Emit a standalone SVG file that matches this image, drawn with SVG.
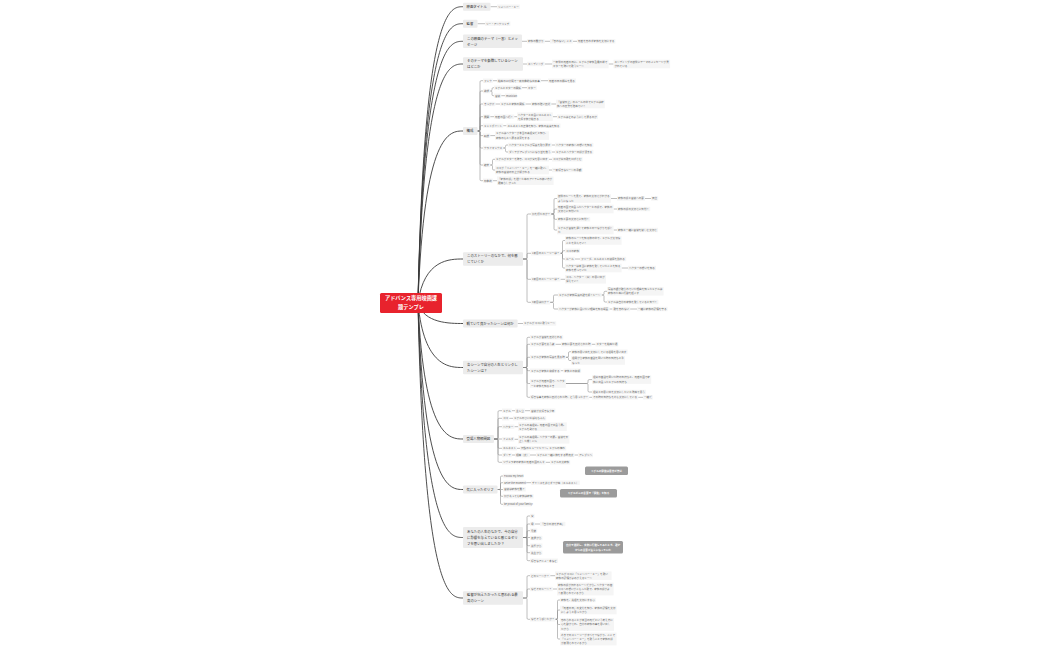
<svg xmlns="http://www.w3.org/2000/svg" width="1050" height="650" viewBox="0 0 1050 650">
<style>
text{font-family:"Noto Sans CJK JP","Noto Sans",sans-serif}
.l1 rect{fill:#ececec}
.l1 text{font-size:3.4px;fill:#333}
.l2 rect{fill:#f5f5f5}
.l2 text{font-size:2.6px;fill:#666}
.ctr rect{fill:#e8232d}
.ctr text{fill:#fff;font-size:5.2px;font-weight:bold;text-anchor:middle}
.note rect{fill:#9b9b9b}
.note text{fill:#fff;font-size:2.6px;font-weight:bold;text-anchor:middle}
.c0{fill:none;stroke:#3a3a3a;stroke-width:0.9}
.c1{fill:none;stroke:#888;stroke-width:0.55}
</style>
<rect width="1050" height="650" fill="#fff"/>
<g id="connectors">
<g class="c0">
<path d="M418 303C424 6.7 450 6.7 463 6.7"/>
<path d="M418 303C424 23.7 450 23.7 463 23.7"/>
<path d="M418 303C424 41.3 450 41.3 463 41.3"/>
<path d="M418 303C424 64 450 64 463 64"/>
<path d="M418 303C424 131 450 131 463 131"/>
<path d="M418 303C424 259 450 259 463 259"/>
<path d="M418 303C424 323.5 450 323.5 463 323.5"/>
<path d="M418 303C424 367.5 450 367.5 463 367.5"/>
<path d="M418 303C424 439 450 439 463 439"/>
<path d="M418 303C424 489.5 450 489.5 463 489.5"/>
<path d="M418 303C424 537.5 450 537.5 463 537.5"/>
<path d="M418 303C424 598 450 598 463 598"/>
</g>
<g class="c1">
<path d="M490.5 6.7H497"/>
<path d="M477.5 23.7H485"/>
<path d="M522 41.3H527M544.6 41.3H550M572.8 41.3H577"/>
<path d="M523 64H527M544.6 64H552M608.6 64H613.5"/>
<path d="M477.5 131H478.8Q480 131 480 129.8V81.9Q480 80.7 481.2 80.7H483"/>
<path d="M477.5 131H478.8Q480 131 480 129.8V92.2Q480 91 481.2 91H483"/>
<path d="M477.5 131H478.8Q480 131 480 129.8V105.2Q480 104 481.2 104H483"/>
<path d="M477.5 131H478.8Q480 131 480 129.8V117.9Q480 116.7 481.2 116.7H483"/>
<path d="M477.5 131H478.8Q480 131 480 129.8V126.9Q480 125.7 481.2 125.7H483"/>
<path d="M477.5 131H478.8Q480 131 480 132.2V134.4Q480 135.6 481.2 135.6H483"/>
<path d="M477.5 131H478.8Q480 131 480 132.2V146.8Q480 148 481.2 148H483"/>
<path d="M477.5 131H478.8Q480 131 480 132.2V163.8Q480 165 481.2 165H483"/>
<path d="M477.5 131H478.8Q480 131 480 132.2V179.5Q480 180.7 481.2 180.7H483"/>
<path d="M492.8 80.7H497M540.9 80.7H548"/>
<path d="M490.2 91H490.8Q492 91 492 89.8V88.9Q492 87.7 493.2 87.7H494M490.2 91H490.8Q492 91 492 92.2V94.5Q492 95.7 493.2 95.7H494"/>
<path d="M522 87.7H527M501.2 95.7H505"/>
<path d="M495.4 104H500M525.4 104H531M551.2 104H556"/>
<path d="M490.2 116.7H494M514.2 116.7H517M552.8 116.7H557"/>
<path d="M503.2 125.7H506.5"/>
<path d="M490.2 135.6H495"/>
<path d="M503.2 148H504.3Q505.5 148 505.5 146.8V146.2Q505.5 145 506.7 145H508M503.2 148H504.3Q505.5 148 505.5 149.2V150.8Q505.5 152 506.7 152H508"/>
<path d="M551.6 145H555M551.6 152H555"/>
<path d="M490.2 165H491.3Q492.5 165 492.5 163.8V160.5Q492.5 159.3 493.7 159.3H495M490.2 165H491.3Q492.5 165 492.5 166.2V168.8Q492.5 170 493.7 170H495"/>
<path d="M549 159.3H552M549 170H552"/>
<path d="M492.8 180.7H497"/>
<path d="M523 259H525.8Q527 259 527 257.8V215.2Q527 214 528.2 214H531"/>
<path d="M523 259H525.8Q527 259 527 257.8V254.5Q527 253.3 528.2 253.3H531"/>
<path d="M523 259H525.8Q527 259 527 260.2V278.1Q527 279.3 528.2 279.3H531"/>
<path d="M523 259H525.8Q527 259 527 260.2V301.1Q527 302.3 528.2 302.3H531"/>
<path d="M551.2 214H552.8Q554 214 554 212.8V199.7Q554 198.5 555.2 198.5H557"/>
<path d="M551.2 214H552.8Q554 214 554 212.8V210.2Q554 209 555.2 209H557"/>
<path d="M551.2 214H552.8Q554 214 554 215.2V218.1Q554 219.3 555.2 219.3H557"/>
<path d="M551.2 214H552.8Q554 214 554 215.2V228.8Q554 230 555.2 230H557"/>
<path d="M611 198.5H617M645 198.5H651M613.6 209H617M613.6 230H617"/>
<path d="M560.4 253.3H561.3Q562.5 253.3 562.5 252.1V241.7Q562.5 240.5 563.7 240.5H565"/>
<path d="M560.4 253.3H561.3Q562.5 253.3 562.5 252.1V251.9Q562.5 250.7 563.7 250.7H565"/>
<path d="M560.4 253.3H561.3Q562.5 253.3 562.5 254.5V257.8Q562.5 259 563.7 259H565"/>
<path d="M560.4 253.3H561.3Q562.5 253.3 562.5 254.5V266.8Q562.5 268 563.7 268H565"/>
<path d="M574.8 259H580M621.6 268H628"/>
<path d="M560.4 279.3H565"/>
<path d="M550.1 302.3H552.3Q553.5 302.3 553.5 301.1V296.2Q553.5 295 554.7 295H558M550.1 302.3H552.3Q553.5 302.3 553.5 303.5V307.8Q553.5 309 554.7 309H558"/>
<path d="M601.6 295H602.8Q604 295 604 293.8V292.5Q604 291.3 605.2 291.3H607M601.6 295H602.8Q604 295 604 296.2V300.8Q604 302 605.2 302H607"/>
<path d="M609.4 309H612.5M630.1 309H637"/>
<path d="M517.6 323.5H523"/>
<path d="M523 367.5H525.8Q527 367.5 527 366.3V338.5Q527 337.3 528.2 337.3H530"/>
<path d="M523 367.5H525.8Q527 367.5 527 366.3V345.5Q527 344.3 528.2 344.3H530"/>
<path d="M523 367.5H525.8Q527 367.5 527 366.3V358.5Q527 357.3 528.2 357.3H530"/>
<path d="M523 367.5H525.8Q527 367.5 527 368.7V369.5Q527 370.7 528.2 370.7H530"/>
<path d="M523 367.5H525.8Q527 367.5 527 368.7V382.3Q527 383.5 528.2 383.5H530"/>
<path d="M523 367.5H525.8Q527 367.5 527 368.7V396.1Q527 397.3 528.2 397.3H530"/>
<path d="M555.4 344.3H561M591.6 344.3H595.5"/>
<path d="M565.8 357.3H567.3Q568.5 357.3 568.5 356.1V352.9Q568.5 351.7 569.7 351.7H571M565.8 357.3H567.3Q568.5 357.3 568.5 358.5V359.3Q568.5 360.5 569.7 360.5H571"/>
<path d="M560.6 370.7H563.5"/>
<path d="M565.8 383.5H586.8Q588 383.5 588 382.3V380.8Q588 379.6 589.2 379.6H592M565.8 383.5H586.8Q588 383.5 588 384.7V390.8Q588 392 589.2 392H592"/>
<path d="M589.2 397.3H592M638.2 397.3H643"/>
<path d="M494 439H496.8Q498 439 498 437.8V411.9Q498 410.7 499.2 410.7H502"/>
<path d="M494 439H496.8Q498 439 498 437.8V419.5Q498 418.3 499.2 418.3H502"/>
<path d="M494 439H496.8Q498 439 498 437.8V427.9Q498 426.7 499.2 426.7H502"/>
<path d="M494 439H502"/>
<path d="M494 439H496.8Q498 439 498 440.2V447.1Q498 448.3 499.2 448.3H502"/>
<path d="M494 439H496.8Q498 439 498 440.2V453.8Q498 455 499.2 455H502"/>
<path d="M494 439H496.8Q498 439 498 440.2V461.1Q498 462.3 499.2 462.3H502"/>
<path d="M511.8 410.7H515M524.8 410.7H530M509.2 418.3H513M514.4 426.7H518M514.4 439.3H518M517 448.3H520M511.8 455H515M530 455H536M574.4 455H578M545.6 462.3H550"/>
<path d="M497.5 489.5H499.3Q500.5 489.5 500.5 488.3V477.2Q500.5 476 501.7 476H503"/>
<path d="M497.5 489.5H499.3Q500.5 489.5 500.5 488.3V483.9Q500.5 482.7 501.7 482.7H503"/>
<path d="M497.5 489.5H503"/>
<path d="M497.5 489.5H499.3Q500.5 489.5 500.5 490.7V495.1Q500.5 496.3 501.7 496.3H503"/>
<path d="M497.5 489.5H499.3Q500.5 489.5 500.5 490.7V503.1Q500.5 504.3 501.7 504.3H503"/>
<path d="M526.2 482.7H531"/>
<path d="M523 537.5H525.8Q527 537.5 527 536.3V517.2Q527 516 528.2 516H530"/>
<path d="M523 537.5H525.8Q527 537.5 527 536.3V525.2Q527 524 528.2 524H530"/>
<path d="M523 537.5H525.8Q527 537.5 527 536.3V531.9Q527 530.7 528.2 530.7H530"/>
<path d="M523 537.5H530"/>
<path d="M523 537.5H525.8Q527 537.5 527 538.7V544.5Q527 545.7 528.2 545.7H530"/>
<path d="M523 537.5H525.8Q527 537.5 527 538.7V551.5Q527 552.7 528.2 552.7H530"/>
<path d="M523 537.5H525.8Q527 537.5 527 538.7V559.5Q527 560.7 528.2 560.7H530"/>
<path d="M534.6 524H540"/>
<path d="M523 598H525.8Q527 598 527 596.8V576.9Q527 575.7 528.2 575.7H530"/>
<path d="M523 598H525.8Q527 598 527 596.8V590.2Q527 589 528.2 589H530"/>
<path d="M523 598H525.8Q527 598 527 599.2V618.1Q527 619.3 528.2 619.3H530"/>
<path d="M550.2 575.7H555M552.8 589H557"/>
<path d="M555.4 619.3H556.3Q557.5 619.3 557.5 618.1V601.2Q557.5 600 558.7 600H560"/>
<path d="M555.4 619.3H556.3Q557.5 619.3 557.5 618.1V611.2Q557.5 610 558.7 610H560"/>
<path d="M555.4 619.3H556.3Q557.5 619.3 557.5 620.5V623.3Q557.5 624.5 558.7 624.5H560"/>
<path d="M555.4 619.3H556.3Q557.5 619.3 557.5 620.5V637.8Q557.5 639 558.7 639H560"/>
</g>
</g>

<g id="center" class="ctr"><rect x="380" y="293" width="62" height="20" rx="1.5"/><text x="411" y="300.2">アドバンス専用映画課</text><text x="411" y="308.6">題テンプレ</text></g>

<g id="n1" class="l1"><rect x="463" y="2.7" width="27.5" height="8" rx="1"/><text x="466.5" y="7.9">映画タイトル</text></g>
<g id="n1-1" class="l2"><rect x="497" y="4.5" width="22.8" height="4.4"/><text x="498" y="7.65">リメンバー・ミー</text></g>

<g id="n2" class="l1"><rect x="463" y="19.7" width="14.5" height="8" rx="1"/><text x="466.5" y="24.9">監督</text></g>
<g id="n2-1" class="l2"><rect x="485" y="21.5" width="25.4" height="4.4"/><text x="486" y="24.65">リー・アンクリッチ</text></g>

<g id="n3" class="l1"><rect x="463" y="34.6" width="59" height="13.4" rx="1"/><text x="467" y="39.5">この映画のテーマ（一言）とメッ</text><text x="467" y="45.5">セージ</text></g>
<g id="n3-1" class="l2"><rect x="527" y="39.1" width="17.6" height="4.4"/><text x="528" y="42.25">家族の繋がり</text></g>
<g id="n3-2" class="l2"><rect x="550" y="39.1" width="22.8" height="4.4"/><text x="551" y="42.25">「忘れない」こと</text></g>
<g id="n3-3" class="l2"><rect x="577" y="39.1" width="38.4" height="4.4"/><text x="578" y="42.25">死者を忘れず家族を大切にする</text></g>

<g id="n4" class="l1"><rect x="463" y="57.3" width="60" height="13.4" rx="1"/><text x="467" y="62.2">そのテーマを象徴しているシーン</text><text x="467" y="68.2">はどこか</text></g>
<g id="n4-1" class="l2"><rect x="527" y="61.8" width="17.6" height="4.4"/><text x="528" y="64.95">エンディング</text></g>
<g id="n4-2" class="l2"><rect x="552" y="59.7" width="56.6" height="8.6"/><text x="553" y="62.85">一年後の死者の日に、ミゲルが家族全員の前で</text><text x="553" y="67.05">ギターを弾いて歌うシーン</text></g>
<g id="n4-3" class="l2"><rect x="613.5" y="59.7" width="56.6" height="8.6"/><text x="614.5" y="62.85">エンディングの最後にテーマのメッセージが書</text><text x="614.5" y="67.05">かれている</text></g>

<g id="n5" class="l1"><rect x="463" y="127" width="14.5" height="8" rx="1"/><text x="466.5" y="132.2">構成</text></g>
<g id="n5-a1" class="l2"><rect x="483" y="78.5" width="9.8" height="4.4"/><text x="484" y="81.65">フック</text></g>
<g id="n5-a2" class="l2"><rect x="497" y="78.5" width="43.9" height="4.4"/><text x="498" y="81.65">始めの10分間で一番印象的な出来事</text></g>
<g id="n5-a3" class="l2"><rect x="548" y="78.5" width="28" height="4.4"/><text x="549" y="81.65">死者の日の祭壇を見る</text></g>
<g id="n5-b1" class="l2"><rect x="483" y="88.8" width="7.2" height="4.4"/><text x="484" y="91.95">欲求</text></g>
<g id="n5-b2" class="l2"><rect x="494" y="85.5" width="28" height="4.4"/><text x="495" y="88.65">ミゲルとギターの関係</text></g>
<g id="n5-b3" class="l2"><rect x="527" y="85.5" width="9.8" height="4.4"/><text x="528" y="88.65">ギター</text></g>
<g id="n5-b4" class="l2"><rect x="494" y="93.5" width="7.2" height="4.4"/><text x="495" y="96.65">音楽</text></g>
<g id="n5-b5" class="l2"><rect x="505" y="93.5" width="12" height="4.4"/><text x="506" y="96.65">musician</text></g>
<g id="n5-c1" class="l2"><rect x="483" y="101.8" width="12.4" height="4.4"/><text x="484" y="104.95">きっかけ</text></g>
<g id="n5-c2" class="l2"><rect x="500" y="101.8" width="25.4" height="4.4"/><text x="501" y="104.95">ミゲルと家族の関係</text></g>
<g id="n5-c3" class="l2"><rect x="531" y="101.8" width="20.2" height="4.4"/><text x="532" y="104.95">家族の強い反対</text></g>
<g id="n5-c4" class="l2"><rect x="556" y="99.7" width="48.8" height="8.6"/><text x="557" y="102.85">「音楽禁止」のルールの中でミゲルは家</text><text x="557" y="107.05">族への反発を強めていく</text></g>
<g id="n5-d1" class="l2"><rect x="483" y="114.5" width="7.2" height="4.4"/><text x="484" y="117.65">展開</text></g>
<g id="n5-d2" class="l2"><rect x="494" y="114.5" width="20.2" height="4.4"/><text x="495" y="117.65">死者の国へ行く</text></g>
<g id="n5-d3" class="l2"><rect x="517" y="112.4" width="35.8" height="8.6"/><text x="518" y="115.55">ヘクターと出会いエルネスト</text><text x="518" y="119.75">を探す旅が始まる</text></g>
<g id="n5-d4" class="l2"><rect x="557" y="114.5" width="41" height="4.4"/><text x="558" y="117.65">ミゲルはどのようにして戻るのか</text></g>
<g id="n5-e1" class="l2"><rect x="483" y="123.5" width="20.2" height="4.4"/><text x="484" y="126.65">ミッドポイント</text></g>
<g id="n5-e2" class="l2"><rect x="506.5" y="123.5" width="54" height="4.4"/><text x="507.5" y="126.65">エルネストの正体を知り、家族の真実を知る</text></g>
<g id="n5-f1" class="l2"><rect x="483" y="133.4" width="7.2" height="4.4"/><text x="484" y="136.55">転換</text></g>
<g id="n5-f2" class="l2"><rect x="495" y="131.3" width="54" height="8.6"/><text x="496" y="134.45">ミゲルはヘクターが本当の高祖父だと知り、</text><text x="496" y="138.65">家族のもとへ戻る決意をする</text></g>
<g id="n5-g1" class="l2"><rect x="483" y="145.8" width="20.2" height="4.4"/><text x="484" y="148.95">クライマックス</text></g>
<g id="n5-g2" class="l2"><rect x="508" y="142.8" width="43.6" height="4.4"/><text x="509" y="145.95">ヘクターとミゲルが写真を取り戻す</text></g>
<g id="n5-g3" class="l2"><rect x="555" y="142.8" width="38.4" height="4.4"/><text x="556" y="145.95">ヘクターの家族への想いを知る</text></g>
<g id="n5-g4" class="l2"><rect x="508" y="149.8" width="43.6" height="4.4"/><text x="509" y="152.95">ダンテがアレブリヘになり皆を救う</text></g>
<g id="n5-g5" class="l2"><rect x="555" y="149.8" width="38.4" height="4.4"/><text x="556" y="152.95">ミゲルとヘクターの絆が深まる</text></g>
<g id="n5-h1" class="l2"><rect x="483" y="162.8" width="7.2" height="4.4"/><text x="484" y="165.95">結末</text></g>
<g id="n5-h2" class="l2"><rect x="495" y="157.1" width="54" height="4.4"/><text x="496" y="160.25">ミゲルがギターを弾き、ココが父を思い出す</text></g>
<g id="n5-h3" class="l2"><rect x="552" y="157.1" width="30.6" height="4.4"/><text x="553" y="160.25">ココが父の歌を口ずさむ</text></g>
<g id="n5-h4" class="l2"><rect x="495" y="165.7" width="54" height="8.6"/><text x="496" y="168.85">ココが「リメンバー・ミー」を一緒に歌い、</text><text x="496" y="173.05">家族の音楽の禁止が解かれる</text></g>
<g id="n5-h5" class="l2"><rect x="552" y="167.8" width="30.6" height="4.4"/><text x="553" y="170.95">一番好きなシーンの余韻</text></g>
<g id="n5-i1" class="l2"><rect x="483" y="178.5" width="9.8" height="4.4"/><text x="484" y="181.65">印象的</text></g>
<g id="n5-i2" class="l2"><rect x="497" y="176.4" width="56.6" height="8.6"/><text x="498" y="179.55">「家族の絆」を描くためのアイテムの使い方が</text><text x="498" y="183.75">素晴らしかった</text></g>

<g id="n6" class="l1"><rect x="463" y="252.3" width="60" height="13.4" rx="1"/><text x="467" y="257.2">このストーリーのなかで、何を感</text><text x="467" y="263.2">じていくか</text></g>
<g id="n6-s1" class="l2"><rect x="531" y="211.8" width="20.2" height="4.4"/><text x="532" y="214.95">何を得たのか？</text></g>
<g id="n6-s2" class="l2"><rect x="557" y="194.2" width="54" height="8.6"/><text x="558" y="197.35">最後のシーンを見て、家族の大切さがわかる</text><text x="558" y="201.55">ようになった</text></g>
<g id="n6-s3" class="l2"><rect x="617" y="196.3" width="28" height="4.4"/><text x="618" y="199.45">家族の絆と音楽への夢</text></g>
<g id="n6-s4" class="l2"><rect x="651" y="196.3" width="7.2" height="4.4"/><text x="652" y="199.45">両立</text></g>
<g id="n6-s5" class="l2"><rect x="557" y="204.7" width="56.6" height="8.6"/><text x="558" y="207.85">死者の国で出会ったヘクターとの絆で、家族の</text><text x="558" y="212.05">大切さに気付いた</text></g>
<g id="n6-s6" class="l2"><rect x="617" y="206.8" width="33.2" height="4.4"/><text x="618" y="209.95">家族の絆の大切さに気付く</text></g>
<g id="n6-s7" class="l2"><rect x="557" y="217.1" width="33.2" height="4.4"/><text x="558" y="220.25">家族と夢の大切さに気付く</text></g>
<g id="n6-s8" class="l2"><rect x="557" y="225.7" width="56.6" height="8.6"/><text x="558" y="228.85">ミゲルが音楽を通じて家族とのつながりを感じ</text><text x="558" y="233.05">た</text></g>
<g id="n6-s9" class="l2"><rect x="617" y="227.8" width="41" height="4.4"/><text x="618" y="230.95">家族と一緒に音楽を楽しむ大切さ</text></g>
<g id="n6-t1" class="l2"><rect x="531" y="251.1" width="29.4" height="4.4"/><text x="532" y="254.25">1番目のストーリーは？</text></g>
<g id="n6-t2" class="l2"><rect x="565" y="236.2" width="56.6" height="8.6"/><text x="566" y="239.35">家族のルーツを知る旅の中で、ミゲルが大切な</text><text x="566" y="243.55">ことを学んでいく</text></g>
<g id="n6-t3" class="l2"><rect x="565" y="248.5" width="15" height="4.4"/><text x="566" y="251.65">ココの家族</text></g>
<g id="n6-t4" class="l2"><rect x="565" y="256.8" width="9.8" height="4.4"/><text x="566" y="259.95">ルール</text></g>
<g id="n6-t5" class="l2"><rect x="580" y="256.8" width="46.2" height="4.4"/><text x="581" y="259.95">フリーダ、エルネストの楽屋を訪れる</text></g>
<g id="n6-t6" class="l2"><rect x="565" y="263.7" width="56.6" height="8.6"/><text x="566" y="266.85">ヘクターは本当に家族を愛していたことを知る</text><text x="566" y="271.05">家族を想っていた</text></g>
<g id="n6-t7" class="l2"><rect x="628" y="265.8" width="28" height="4.4"/><text x="629" y="268.95">ヘクターの想いを知る</text></g>
<g id="n6-u1" class="l2"><rect x="531" y="277.1" width="29.4" height="4.4"/><text x="532" y="280.25">2番目のストーリーは？</text></g>
<g id="n6-u2" class="l2"><rect x="565" y="275" width="41" height="8.6"/><text x="566" y="278.15">ココ、ヘクター（父）の思い出が</text><text x="566" y="282.35">消えていく</text></g>
<g id="n6-v1" class="l2"><rect x="531" y="300.1" width="19.1" height="4.4"/><text x="532" y="303.25">3番目は何か？</text></g>
<g id="n6-v2" class="l2"><rect x="558" y="292.8" width="43.6" height="4.4"/><text x="559" y="295.95">ミゲルが家族写真の謎を解くシーン</text></g>
<g id="n6-v3" class="l2"><rect x="607" y="287" width="56.6" height="8.6"/><text x="608" y="290.15">写真の顔が破られていた理由を知ったミゲルは</text><text x="608" y="294.35">家族のために行動を起こす</text></g>
<g id="n6-v4" class="l2"><rect x="607" y="299.8" width="51.4" height="4.4"/><text x="608" y="302.95">ミゲルは自分の家族を愛していると気づく</text></g>
<g id="n6-v5" class="l2"><rect x="558" y="306.8" width="51.4" height="4.4"/><text x="559" y="309.95">ヘクターが家族に会いたい理由を知る場面</text></g>
<g id="n6-v6" class="l2"><rect x="612.5" y="306.8" width="17.6" height="4.4"/><text x="613.5" y="309.95">歌を忘れない</text></g>
<g id="n6-v7" class="l2"><rect x="637" y="306.8" width="30.6" height="4.4"/><text x="638" y="309.95">一緒に家族の記憶を守る</text></g>

<g id="n7" class="l1"><rect x="463" y="319.5" width="54.6" height="8" rx="1"/><text x="466.5" y="324.7">観ていて良かったシーンは何か</text></g>
<g id="n7-1" class="l2"><rect x="523" y="321.3" width="33.2" height="4.4"/><text x="524" y="324.45">ミゲルがココに歌うシーン</text></g>

<g id="n8" class="l1"><rect x="463" y="360.8" width="60" height="13.4" rx="1"/><text x="467" y="365.7">各シーンで自分の人生とリンクし</text><text x="467" y="371.7">たシーンは？</text></g>
<g id="n8-w1" class="l2"><rect x="530" y="335.1" width="33.2" height="4.4"/><text x="531" y="338.25">ミゲルが音楽を反対される</text></g>
<g id="n8-w2" class="l2"><rect x="530" y="342.1" width="25.4" height="4.4"/><text x="531" y="345.25">ミゲルが夢を追う姿</text></g>
<g id="n8-w3" class="l2"><rect x="561" y="342.1" width="30.6" height="4.4"/><text x="562" y="345.25">家族に夢を反対された時</text></g>
<g id="n8-w4" class="l2"><rect x="595.5" y="342.1" width="22.8" height="4.4"/><text x="596.5" y="345.25">ギターを始めた頃</text></g>
<g id="n8-w5" class="l2"><rect x="530" y="355.1" width="35.8" height="4.4"/><text x="531" y="358.25">ミゲルが家族の写真を見る時</text></g>
<g id="n8-w6" class="l2"><rect x="571" y="349.5" width="56.6" height="4.4"/><text x="572" y="352.65">家族の思い出を大切にしている祖母を思い出す</text></g>
<g id="n8-w7" class="l2"><rect x="571" y="356.2" width="54" height="8.6"/><text x="572" y="359.35">祖母から家族の昔話を聞いた時の気持ちと重</text><text x="572" y="363.55">なった</text></g>
<g id="n8-w8" class="l2"><rect x="530" y="368.5" width="30.6" height="4.4"/><text x="531" y="371.65">ミゲルが家族と和解する</text></g>
<g id="n8-w9" class="l2"><rect x="563.5" y="368.5" width="17.6" height="4.4"/><text x="564.5" y="371.65">家族との和解</text></g>
<g id="n8-w10" class="l2"><rect x="530" y="379.2" width="35.8" height="8.6"/><text x="531" y="382.35">ミゲルが死者の国で、ヘクタ</text><text x="531" y="386.55">ーと家族を知るとき</text></g>
<g id="n8-w11" class="l2"><rect x="592" y="375.3" width="59.2" height="8.6"/><text x="593" y="378.45">祖父の昔話を聞いた時の気持ちと、死者の国で家</text><text x="593" y="382.65">族に出会ったミゲルの気持ち</text></g>
<g id="n8-w12" class="l2"><rect x="592" y="389.8" width="54" height="4.4"/><text x="593" y="392.95">祖父との思い出を大切にしたいと改めて思う</text></g>
<g id="n8-w13" class="l2"><rect x="530" y="395.1" width="59.2" height="4.4"/><text x="531" y="398.25">好きな事を家族に反対された時、どう思ったか？</text></g>
<g id="n8-w14" class="l2"><rect x="592" y="395.1" width="46.2" height="4.4"/><text x="593" y="398.25">その時の気持ちを今も大切にしている</text></g>
<g id="n8-w15" class="l2"><rect x="643" y="395.1" width="9.8" height="4.4"/><text x="644" y="398.25">一緒だ</text></g>

<g id="n9" class="l1"><rect x="463" y="435" width="31" height="8" rx="1"/><text x="466.5" y="440.2">登場人物相関図</text></g>
<g id="n9-x1" class="l2"><rect x="502" y="408.5" width="9.8" height="4.4"/><text x="503" y="411.65">ミゲル</text></g>
<g id="n9-x2" class="l2"><rect x="515" y="408.5" width="9.8" height="4.4"/><text x="516" y="411.65">主人公</text></g>
<g id="n9-x3" class="l2"><rect x="530" y="408.5" width="25.4" height="4.4"/><text x="531" y="411.65">音楽が大好きな少年</text></g>
<g id="n9-x4" class="l2"><rect x="502" y="416.1" width="7.2" height="4.4"/><text x="503" y="419.25">ココ</text></g>
<g id="n9-x5" class="l2"><rect x="513" y="416.1" width="33.2" height="4.4"/><text x="514" y="419.25">ミゲルのひいおばあちゃん</text></g>
<g id="n9-x6" class="l2"><rect x="502" y="424.5" width="12.4" height="4.4"/><text x="503" y="427.65">ヘクター</text></g>
<g id="n9-x7" class="l2"><rect x="518" y="422.4" width="48.8" height="8.6"/><text x="519" y="425.55">ミゲルの高祖父。死者の国で出会う男。</text><text x="519" y="429.75">ミゲルを助ける</text></g>
<g id="n9-x8" class="l2"><rect x="502" y="437.1" width="12.4" height="4.4"/><text x="503" y="440.25">イメルダ</text></g>
<g id="n9-x9" class="l2"><rect x="518" y="435" width="51.4" height="8.6"/><text x="519" y="438.15">ミゲルの高祖母。ヘクターの妻。音楽を禁</text><text x="519" y="442.35">止した厳しい人</text></g>
<g id="n9-x10" class="l2"><rect x="502" y="446.1" width="15" height="4.4"/><text x="503" y="449.25">エルネスト</text></g>
<g id="n9-x11" class="l2"><rect x="520" y="446.1" width="46.2" height="4.4"/><text x="521" y="449.25">伝説のミュージシャン。ミゲルの憧れ</text></g>
<g id="n9-x12" class="l2"><rect x="502" y="452.8" width="9.8" height="4.4"/><text x="503" y="455.95">ダンテ</text></g>
<g id="n9-x13" class="l2"><rect x="515" y="452.8" width="15" height="4.4"/><text x="516" y="455.95">相棒（犬）</text></g>
<g id="n9-x14" class="l2"><rect x="536" y="452.8" width="38.4" height="4.4"/><text x="537" y="455.95">ミゲルと一緒に旅をする野良犬</text></g>
<g id="n9-x15" class="l2"><rect x="578" y="452.8" width="15" height="4.4"/><text x="579" y="455.95">アレブリヘ</text></g>
<g id="n9-x16" class="l2"><rect x="502" y="460.1" width="43.6" height="4.4"/><text x="503" y="463.25">リヴェラ家の家族と死者の国の人々</text></g>
<g id="n9-x17" class="l2"><rect x="550" y="460.1" width="20.2" height="4.4"/><text x="551" y="463.25">ミゲルの大家族</text></g>
<g id="note1" class="note"><rect x="585" y="466.5" width="43" height="8.5" rx="1.5"/><text x="606.5" y="471.7">ミゲルの家族は音楽が禁止</text></g>

<g id="n10" class="l1"><rect x="463" y="485.5" width="34.5" height="8" rx="1"/><text x="466.5" y="490.7">気に入ったセリフ</text></g>
<g id="n10-y1" class="l2"><rect x="503" y="473.8" width="20.4" height="4.4"/><text x="504" y="476.95">Follow my heart</text></g>
<g id="n10-y2" class="l2"><rect x="503" y="480.5" width="23.2" height="4.4"/><text x="504" y="483.65">Seize the moment</text></g>
<g id="n10-y3" class="l2"><rect x="531" y="480.5" width="48.8" height="4.4"/><text x="532" y="483.65">チャンスを逃さずつかめ（エルネスト）</text></g>
<g id="n10-y4" class="l2"><rect x="503" y="487.1" width="22.8" height="4.4"/><text x="504" y="490.25">音楽は家族を繋ぐ</text></g>
<g id="n10-y5" class="l2"><rect x="503" y="494.1" width="30.6" height="4.4"/><text x="504" y="497.25">何があっても家族は家族</text></g>
<g id="n10-y6" class="l2"><rect x="503" y="502.1" width="28.5" height="4.4"/><text x="504" y="505.25">be proud of your family!</text></g>
<g id="note2" class="note"><rect x="560" y="489" width="57" height="8.5" rx="1.5"/><text x="588.5" y="494.2">ミゲルがこの言葉で「家族」を知る</text></g>

<g id="n11" class="l1"><rect x="463" y="527" width="60" height="21" rx="1"/><text x="467" y="532.7">あなたの人生のなかで、今の自分</text><text x="467" y="538.7">に影響を与えていると感じるセリ</text><text x="467" y="544.7">フを思い出しましたか？</text></g>
<g id="n11-z1" class="l2"><rect x="530" y="513.8" width="4.6" height="4.4"/><text x="531" y="516.95">父</text></g>
<g id="n11-z2" class="l2"><rect x="530" y="521.8" width="4.6" height="4.4"/><text x="531" y="524.95">母</text></g>
<g id="n11-z3" class="l2"><rect x="540" y="521.8" width="25.4" height="4.4"/><text x="541" y="524.95">「自分の道を進め」</text></g>
<g id="n11-z4" class="l2"><rect x="530" y="528.5" width="7.2" height="4.4"/><text x="531" y="531.65">兄弟</text></g>
<g id="n11-z5" class="l2"><rect x="530" y="535.8" width="12.4" height="4.4"/><text x="531" y="538.95">友達から</text></g>
<g id="n11-z6" class="l2"><rect x="530" y="543.5" width="12.4" height="4.4"/><text x="531" y="546.65">先輩から</text></g>
<g id="n11-z7" class="l2"><rect x="530" y="550.5" width="12.4" height="4.4"/><text x="531" y="553.65">先生から</text></g>
<g id="n11-z8" class="l2"><rect x="530" y="558.5" width="28" height="4.4"/><text x="531" y="561.65">好きなアニメ・本など</text></g>
<g id="note3" class="note"><rect x="563" y="541" width="60" height="12.5" rx="1.5"/><text x="593" y="546.3">自分で選択し、実際に行動してみたとき、誰か</text><text x="593" y="550.9">からの言葉が支えになっていた</text></g>

<g id="n12" class="l1"><rect x="463" y="591.3" width="60" height="13.4" rx="1"/><text x="467" y="596.2">監督が伝えたかったと思われる最</text><text x="467" y="602.2">高のシーン</text></g>
<g id="n12-q1" class="l2"><rect x="530" y="573.5" width="20.2" height="4.4"/><text x="531" y="576.65">どのシーンか？</text></g>
<g id="n12-q2" class="l2"><rect x="555" y="571.4" width="56.6" height="8.6"/><text x="556" y="574.55">ミゲルがココに「リメンバー・ミー」を歌い</text><text x="556" y="578.75">家族の記憶がよみがえるシーン</text></g>
<g id="n12-q3" class="l2"><rect x="530" y="586.8" width="22.8" height="4.4"/><text x="531" y="589.95">なぜそのシーン？</text></g>
<g id="n12-q4" class="l2"><rect x="557" y="582.6" width="56.6" height="12.8"/><text x="558" y="585.75">家族の絆が伝わるシーンだから。ヘクターの娘</text><text x="558" y="589.95">ココへの想いがこもった歌で、家族の絆がよ</text><text x="558" y="594.15">く表現されているから</text></g>
<g id="n12-q5" class="l2"><rect x="530" y="617.1" width="25.4" height="4.4"/><text x="531" y="620.25">なぜそう感じたか？</text></g>
<g id="n12-q6" class="l2"><rect x="560" y="597.8" width="35.8" height="4.4"/><text x="561" y="600.95">家族を、先祖を大切にする心</text></g>
<g id="n12-q7" class="l2"><rect x="560" y="605.7" width="56.6" height="8.6"/><text x="561" y="608.85">「死者の日」の文化を知り、家族の記憶を大切</text><text x="561" y="613.05">にしようと思ったから</text></g>
<g id="n12-q8" class="l2"><rect x="560" y="618.1" width="54" height="12.8"/><text x="561" y="621.25">忘れられることが本当の死だという考え方に</text><text x="561" y="625.45">心を動かされ、自分の家族の事を思い出し</text><text x="561" y="629.65">たから</text></g>
<g id="n12-q9" class="l2"><rect x="560" y="632.6" width="56.6" height="12.8"/><text x="561" y="635.75">今までのストーリーがすべてつながり、ここで</text><text x="561" y="639.95">「リメンバー・ミー」を歌うことで家族の絆</text><text x="561" y="644.15">が表現されているから</text></g>
</svg>
